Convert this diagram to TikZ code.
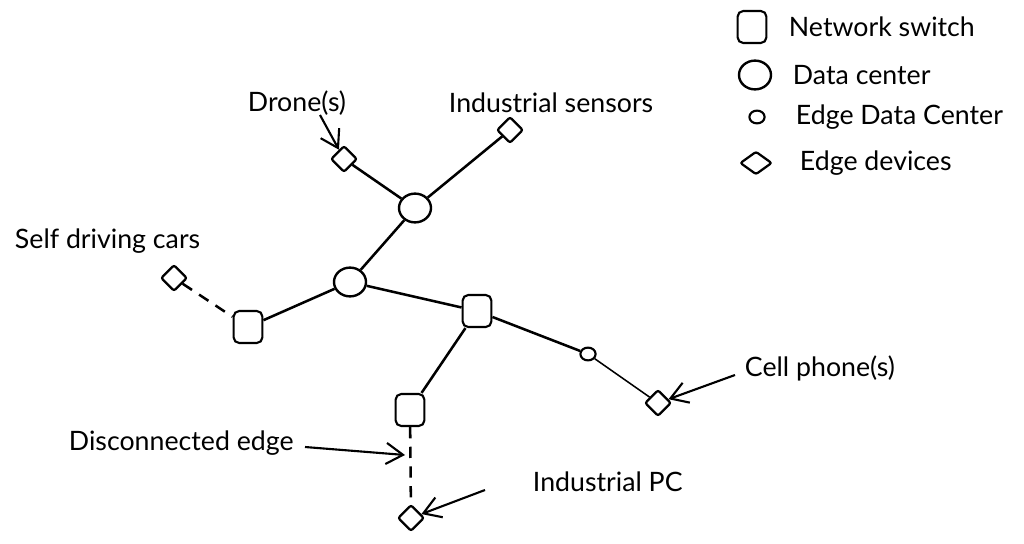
\documentclass[tikz,border=0pt]{standalone}
\usepackage{fontspec}
\setmainfont{Lato}
\usetikzlibrary{shapes.geometric, arrows.meta}

\begin{document}
\begin{tikzpicture}[x=0.025cm, y=-0.025cm,
      switchbox/.style={draw, line width=1.5pt, rounded corners=4pt, minimum width=0.72cm, minimum height=0.8cm, inner sep=0pt},
      dcenter/.style={draw, ellipse, line width=1.7pt, minimum width=0.8cm, minimum height=0.72cm, inner sep=0pt},
      edgedc/.style={draw, ellipse, line width=1.5pt, minimum width=0.38cm, minimum height=0.32cm, inner sep=0pt},
      device/.style={draw, diamond, line width=1.6pt, rounded corners=1.5pt, minimum size=0.66cm, inner sep=0pt},
      lbl/.style={anchor=west, font=\fontsize{19}{23}\selectfont},
      link/.style={line width=1.8pt},
      arr/.style={-{Straight Barb[length=12pt, width=15pt]}, line width=1.5pt}]
    \useasboundingbox (0,0) rectangle (1024,544);
    % legend
    \node[switchbox] (lgSwitch) at (752,27) {};
    \node[dcenter] (lgDc) at (755,75) {};
    \node[edgedc] (lgEdc) at (757,117) {};
    \node[device, minimum width=0.8cm, minimum height=0.58cm] (lgDev) at (756,163) {};
    \node[lbl] (lgSwitchTxt) at (784,27) {Network switch};
    \node[lbl] (lgDcTxt) at (788,75) {Data center};
    \node[lbl] (lgEdcTxt) at (791,117) {Edge Data Center};
    \node[lbl] (lgDevTxt) at (795,163) {Edge devices};
    % network
    \node[device] (drone) at (344,159) {};
    \node[device] (sensor) at (510,130) {};
    \node[dcenter] (dcTop) at (415,208) {};
    \node[dcenter] (dcMid) at (350,282) {};
    \node[device] (car) at (174,278) {};
    \node[switchbox] (swLeft) at (248,327) {};
    \node[switchbox] (swMid) at (477,311) {};
    \node[edgedc] (edc) at (588,354) {};
    \node[device] (phone) at (658,403) {};
    \node[switchbox] (swBot) at (410,410) {};
    \node[device] (pc) at (411,518) {};
    \draw[link] (drone) -- (dcTop); \draw[link] (sensor) -- (dcTop);
    \draw[link] (dcTop) -- (dcMid); \draw[link] (dcMid) -- (swLeft);
    \draw[link] (dcMid) -- (swMid); \draw[link] (swMid) -- (edc);
    \draw[line width=1.1pt] (edc) -- (phone); \draw[link] (swMid) -- (swBot);
    \draw[link, dash pattern=on 8pt off 6pt] (car) -- (swLeft);
    \draw[link, dash pattern=on 8pt off 6pt] (swBot) -- (pc);
    % labels
    \node[lbl] (droneTxt) at (243,103) {Drone(s)};
    \node[lbl] (sensorTxt) at (444,103) {Industrial sensors};
    \node[lbl] (carTxt) at (10,241) {Self driving cars};
    \node[lbl] (phoneTxt) at (740,368) {Cell phone(s)};
    \node[lbl] (gapTxt) at (64,443) {Disconnected edge};
    \node[lbl] (pcTxt) at (528,482) {Industrial PC};
    \coordinate (droneFrom) at (320,115);
    \coordinate (phoneFrom) at (735,375);
    \coordinate (gapFrom) at (305,447);
    \coordinate (gap) at (405,455);
    \coordinate (pcFrom) at (485,490);
    \draw[arr] (droneFrom) -- (drone); \draw[arr] (phoneFrom) -- (phone);
    \draw[arr] (gapFrom) -- (gap); \draw[arr] (pcFrom) -- (pc);
  \end{tikzpicture}
\end{document}
